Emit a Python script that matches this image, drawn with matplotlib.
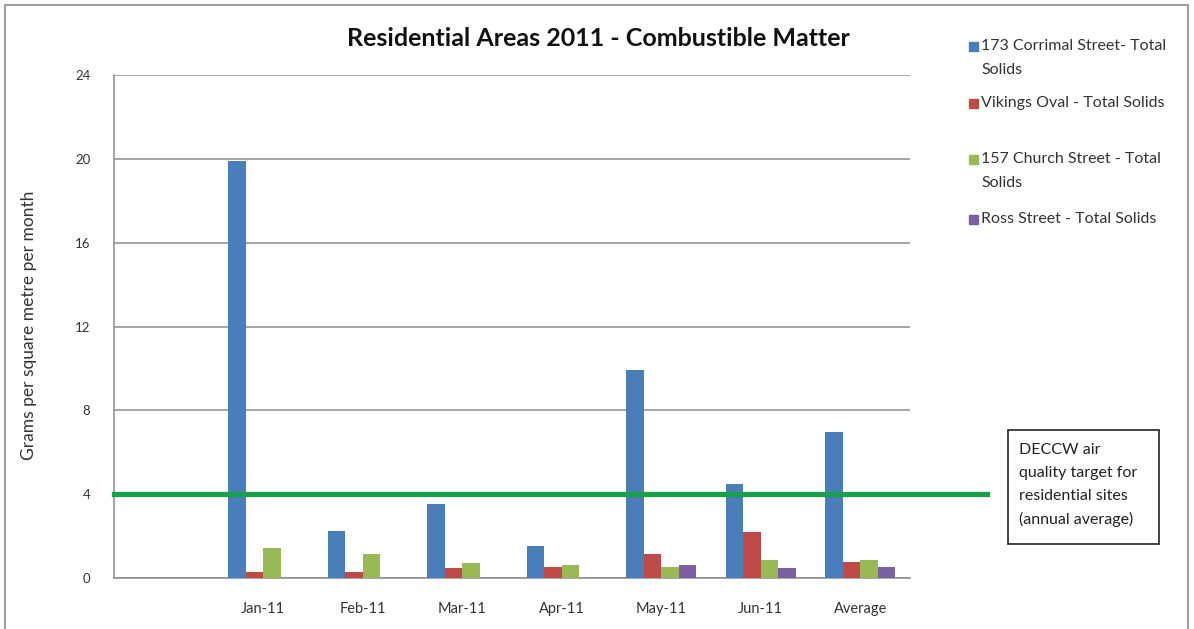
import numpy as np
import matplotlib.pyplot as plt
from matplotlib.patches import Rectangle

plt.rcParams['font.family'] = ['Lato', 'DejaVu Sans']

# ---- data ----
categories = ["", "Jan-11", "Feb-11", "Mar-11", "Apr-11", "May-11", "Jun-11", "Average"]
corrimal = [0, 19.9, 2.24, 3.53, 1.53, 9.92, 4.5, 6.95]
vikings = [0, 0.3, 0.3, 0.46, 0.54, 1.13, 2.18, 0.78]
church = [0, 1.43, 1.13, 0.72, 0.63, 0.54, 0.86, 0.86]
ross = [0, 0, 0, 0, 0, 0.63, 0.46, 0.54]
series_names = ["173 Corrimal Street- Total\nSolids",
                "Vikings Oval - Total Solids",
                "157 Church Street - Total\nSolids",
                "Ross Street - Total Solids"]
target = 4
yticks = [0, 4, 8, 12, 16, 20, 24]

colors = ["#4a7ebb", "#be4b48", "#98b954", "#7d60a0"]
line_green = "#1aa04a"
grid_col = "#8c8c8c"

fig = plt.figure(figsize=(11.94, 6.29), dpi=100)
W, H = 1194, 629
ax = fig.add_axes([114 / W, 1 - 578 / H, (910 - 114) / W, (578 - 75) / H])

x = np.arange(len(categories))
bw = 0.176
all_series = [corrimal, vikings, church, ross]
for i, (vals, col) in enumerate(zip(all_series, colors)):
    ax.bar(x + (i - 1.5) * bw, vals, width=bw, color=col, zorder=3)

ax.set_xlim(-0.5, len(categories) - 0.5)
ax.set_ylim(0, 24)
ax.set_yticks(yticks)
ax.set_xticks(x)
ax.set_xticklabels(categories)
ax.yaxis.grid(True, color=grid_col, lw=1.1, zorder=0)
ax.tick_params(axis='y', length=0, pad=17, labelsize=9.5, labelcolor="#333333")
ax.tick_params(axis='x', length=0, pad=17, labelsize=10.5, labelcolor="#333333")
for s in ["top", "right"]:
    ax.spines[s].set_visible(False)
for s in ["left", "bottom"]:
    ax.spines[s].set_color(grid_col)
    ax.spines[s].set_linewidth(1.1)

ax.set_ylabel("Grams per square metre per month", fontsize=12.5, color="#333333")
ax.yaxis.set_label_coords((37 - 114) / 796, 0.5 + (578 - 325 - 251.5) / 503)

# target line runs out past the plot area to the note box
ax.plot([-0.5, 8.27], [target, target], color=line_green, lw=3.8, clip_on=False, zorder=4)

fig.text(598 / W, 1 - 38 / H, "Residential Areas 2011 - Combustible Matter",
         ha="center", va="center", fontsize=18, fontweight="bold", color="#111111")

# legend on the right
leg_y = [47, 104, 160, 220]
for name, col, yy in zip(series_names, colors, leg_y):
    fig.add_artist(Rectangle((969 / W, 1 - (yy + 4) / H), 9 / W, 9 / H,
                             transform=fig.transFigure, color=col))
    fig.text(981 / W, 1 - (yy - 8) / H, name, ha="left", va="top",
             fontsize=11.5, color="#333333", linespacing=1.95)

# note box for the target line
fig.text(1019 / W, 1 - 443 / H,
         "DECCW air\nquality target for\nresidential sites\n(annual average)",
         ha="left", va="top", fontsize=11.5, color="#222222", linespacing=1.8)
fig.add_artist(Rectangle((1008 / W, 1 - 544 / H), 151 / W, 114 / H,
                         transform=fig.transFigure, fill=False, ec="#222222", lw=1.2))

# chart border
fig.add_artist(Rectangle((5 / W, -0.05), 1183 / W, 1 - 5 / H + 0.05,
                         transform=fig.transFigure, fill=False, ec="#a0a0a0", lw=1.5))

fig.savefig("out.png", dpi=100)
